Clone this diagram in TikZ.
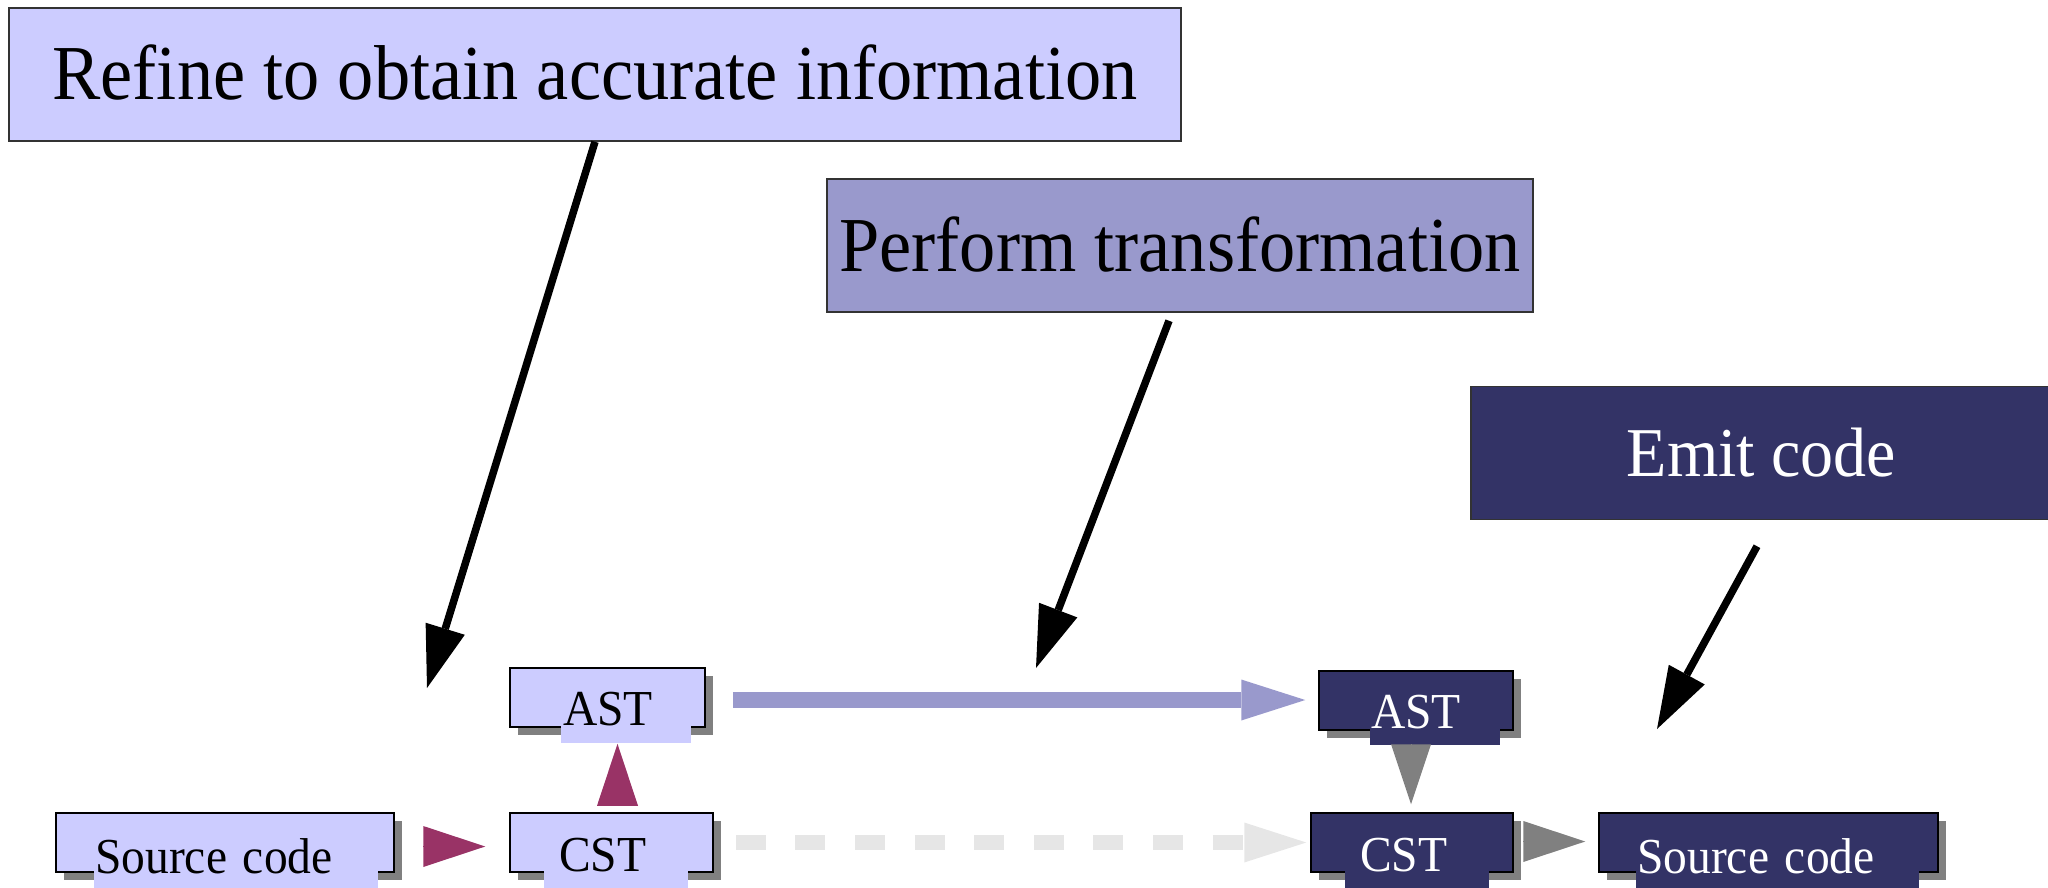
\documentclass[tikz,border=0pt]{standalone}
\usepackage{fontspec}
\setmainfont{Liberation Serif}
\usetikzlibrary{arrows.meta,shadows,calc}
\definecolor{lightfill}{HTML}{CCCCFF}
\definecolor{midfill}{HTML}{9999CC}
\definecolor{darkfill}{HTML}{333366}
\definecolor{magentac}{HTML}{993366}
\definecolor{shadowgray}{HTML}{808080}
\definecolor{dashgray}{HTML}{E6E6E6}
\newcommand{\tallbig}[1]{\scalebox{1.005}[1.08]{#1}}
\newcommand{\tallsmall}[1]{\scalebox{1}[1.06]{#1}}
\begin{document}
\begin{tikzpicture}[x=1pt,y=-1pt,
  bigbox/.style={draw=black!80, line width=1.5pt, inner sep=0pt, minimum height=133pt, text height=51pt, text depth=0pt},
  smallbox/.style={draw=black, line width=1.5pt, inner sep=0pt, minimum height=59pt,
    drop shadow={shadow xshift=8pt, shadow yshift=-8pt, fill=shadowgray, opacity=1}},
  ltext/.style={anchor=base west, inner sep=0pt, text height=36pt, text depth=18pt, align=left,
    font=\fontsize{47.5}{50}\selectfont},
  callout/.style={draw=black, line width=7.5pt, -{Triangle[length=62pt,width=41pt,line width=0pt]}},
  headonly/.style={line width=0.1pt, -{Triangle[length=62pt,width=41pt,line width=0pt]}}
]
\useasboundingbox (0,0) rectangle (2048,888);

% top boxes
\node[bigbox, fill=lightfill, minimum width=1172pt, font=\fontsize{72}{80}\selectfont] (refine) at (595,74.5) {\tallbig{Refine to obtain accurate information}};
\node[bigbox, fill=midfill, minimum width=706pt, font=\fontsize{72}{80}\selectfont] (perform) at (1180,245.5) {\tallbig{Perform transformation}};
\node[bigbox, fill=darkfill, minimum width=581pt, text=white, font=\fontsize{66}{75}\selectfont, text height=46pt] (emit) at (1761.5,453) {\tallsmall{Emit code}};

% callouts
\coordinate (tipA) at (427,688);
\coordinate (tipB) at (1036,668);
\coordinate (tipC) at (1657,729);
\draw[callout] (refine.south) -- (tipA);
\draw[callout] ($(perform.south)+(-11,8)$) -- (tipB);
\draw[callout] ($(emit.south)+(-4.5,26)$) -- (tipC);

% bottom boxes
\node[smallbox, fill=lightfill, minimum width=338pt] (srcL) at (225,842.5) {};
\node[smallbox, fill=lightfill, minimum width=203pt] (cstL) at (611.5,842.5) {};
\node[smallbox, fill=lightfill, minimum width=195pt] (astL) at (607.5,697.5) {};
\node[smallbox, fill=darkfill, minimum width=194pt] (astR) at (1416,700.5) {};
\node[smallbox, fill=darkfill, minimum width=202pt] (cstR) at (1412,842.5) {};
\node[smallbox, fill=darkfill, minimum width=339pt] (srcR) at (1768.5,842.5) {};

% labels
\node[ltext, fill=lightfill, text width=284pt] (srcLt) at (94,873) {\hspace*{1pt}\tallsmall{Source code}};
\node[ltext, fill=lightfill, text width=144pt] (cstLt) at (544,871.5) {\hspace*{15pt}\tallsmall{CST}};
\node[ltext, fill=lightfill, text width=130pt, text depth=17pt] (astLt) at (561,725.5) {\hspace*{2pt}\tallsmall{AST}};
\node[ltext, fill=darkfill, text=white, text width=130pt, text depth=17pt] (astRt) at (1370,728) {\hspace*{1pt}\tallsmall{AST}};
\node[ltext, fill=darkfill, text=white, text width=144pt] (cstRt) at (1345,871.5) {\hspace*{15pt}\tallsmall{CST}};
\node[ltext, fill=darkfill, text=white, text width=283pt] (srcRt) at (1636,873) {\hspace*{1pt}\tallsmall{Source code}};

% connectors
\draw[headonly, magentac, shorten <=29pt, shorten >=24pt] ([yshift=-4pt]srcL.east) -- ([yshift=-4pt]cstL.west);
\draw[headonly, magentac, shorten <=8pt, shorten >=16pt] ([xshift=6pt]cstL.north) -- ([xshift=10pt]astL.south);
\draw[line width=0.1pt, shadowgray, -{Triangle[length=60pt,width=40pt,line width=0pt]}, shorten <=15pt, shorten >=8pt] ([xshift=-5pt]astR.south) -- ([xshift=-1pt]cstR.north);
\draw[headonly, shadowgray, shorten <=11pt, shorten >=13pt] ([yshift=1pt]cstR.east) -- ([yshift=1pt]srcR.west);
\draw[midfill, line width=16pt, -{Triangle[length=64pt,width=41pt,line width=0pt]}, shorten <=27pt, shorten >=13pt] ([yshift=-2.5pt]astL.east) -- ([yshift=0.5pt]astR.west);
\draw[dashgray, line width=15pt, dash pattern=on 30pt off 29.6pt, -{Triangle[length=62pt,width=40pt,line width=0pt]}, shorten <=22pt, shorten >=4pt] (cstL.east) -- (cstR.west);
\end{tikzpicture}
\end{document}
